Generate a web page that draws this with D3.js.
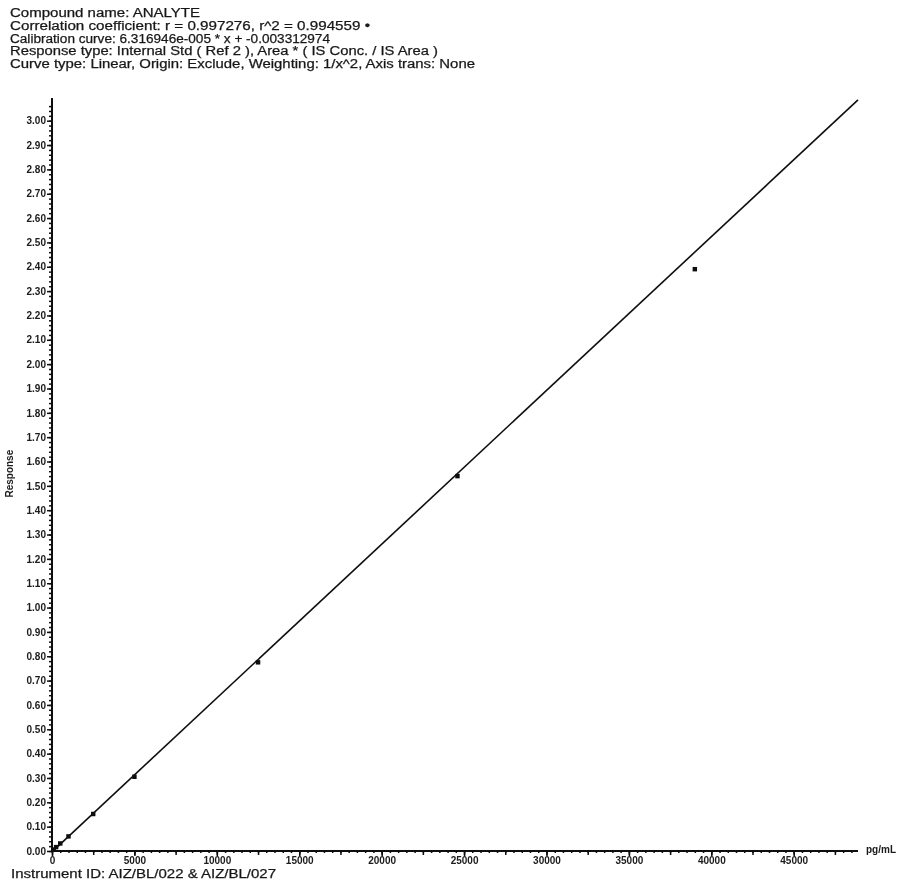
<!DOCTYPE html>
<html>
<head>
<meta charset="utf-8">
<script src="https://cdn.jsdelivr.net/npm/d3@7"></script>
<style>
  html, body { margin: 0; padding: 0; background: #fff; }
  svg { display: block; }
  .hdr { font-family: "Liberation Sans", Arial, sans-serif; font-size: 12px; fill: #1a1a1a; stroke: #1a1a1a; stroke-width: 0.25px; }
  .tick-lbl { font-family: "Liberation Sans", Arial, sans-serif; font-size: 10px; font-weight: bold; fill: #1a1a1a; }
</style>
</head>
<body>
<script>
// Header lines of the calibration report, with their printed widths
const headerLines = [
  "Compound name: ANALYTE",
  "Correlation coefficient: r = 0.997276, r^2 = 0.994559  \u2022",
  "Calibration curve: 6.316946e-005 * x + -0.003312974",
  "Response type: Internal Std ( Ref 2 ), Area * ( IS Conc. / IS Area )",
  "Curve type: Linear, Origin: Exclude, Weighting: 1/x^2, Axis trans: None"
];
const headerWidths = [190, 360, 320, 428, 465];
const footerText = "Instrument ID: AIZ/BL/022 & AIZ/BL/027";

// Calibration fit
const slope = 6.316946e-5;
const intercept = -0.003312974;

// Standards: concentration (pg/mL) and measured response
const concentrations = [100, 250, 500, 1000, 2500, 5000, 12500, 24600, 39000];
const responses      = [0.006, 0.016, 0.031, 0.060, 0.152, 0.305, 0.775, 1.540, 2.390];

// Axis ranges and tick labels
const xMax = 48900;
const yMax = 3.085;
const xTickValues = [0, 5000, 10000, 15000, 20000, 25000, 30000, 35000, 40000, 45000];
const yTickValues = d3.range(0, 31).map(i => i / 10);

const W = 900, H = 881;
const svg = d3.select("body").append("svg").attr("width", W).attr("height", H);

// soft print-like rendering
const defs = svg.append("defs");
defs.append("filter").attr("id", "soft")
  .attr("filterUnits", "userSpaceOnUse")
  .attr("x", 0).attr("y", 0).attr("width", W).attr("height", H)
  .append("feGaussianBlur").attr("stdDeviation", 0.55);

const g = svg.append("g").attr("filter", "url(#soft)");

const x = d3.scaleLinear().domain([0, xMax]).range([52, 858]);
const y = d3.scaleLinear().domain([0, yMax]).range([851, 100]);

// Header
g.append("g").selectAll("text").data(headerLines).join("text")
  .attr("class", "hdr")
  .attr("x", 10)
  .attr("y", (d, i) => 17 + i * 12.8)
  .attr("textLength", (d, i) => headerWidths[i])
  .attr("lengthAdjust", "spacingAndGlyphs")
  .text(d => d);

// Footer
g.append("text").attr("class", "hdr")
  .attr("x", 11).attr("y", 878)
  .attr("textLength", 265).attr("lengthAdjust", "spacingAndGlyphs")
  .text(footerText);

// Y axis: minor ticks every 0.02, labelled every 0.10
const yAxisG = g.append("g").attr("transform", `translate(${x(0)},0)`);
yAxisG.call(d3.axisLeft(y).tickValues(d3.range(0, 154).map(i => i * 0.02)).tickSize(3).tickFormat(""))
  .call(a => a.select(".domain").remove());
yAxisG.append("g").call(d3.axisLeft(y).tickValues(yTickValues).tickSize(5).tickPadding(1).tickFormat(d3.format(".2f")))
  .call(a => a.select(".domain").remove())
  .call(a => a.selectAll("text").attr("class", "tick-lbl").attr("font-size", null).attr("font-family", null));
yAxisG.append("line").attr("x1", 0).attr("x2", 0).attr("y1", y(0)).attr("y2", y(yMax) - 2)
  .attr("stroke", "#111").attr("stroke-width", 2);
yAxisG.selectAll(".tick line").attr("stroke", "#111").attr("stroke-width", 1.5);

// X axis: minor ticks every 500, medium every 2500, labelled every 5000
const xAxisG = g.append("g").attr("transform", `translate(0,${y(0)})`);
xAxisG.call(d3.axisBottom(x).tickValues(d3.range(0, 98).map(i => i * 500)).tickSize(2).tickFormat(""))
  .call(a => a.select(".domain").remove());
xAxisG.append("g").call(d3.axisBottom(x).tickValues(d3.range(0, 20).map(i => i * 2500)).tickSize(4).tickFormat(""))
  .call(a => a.select(".domain").remove());
xAxisG.append("g").call(d3.axisBottom(x).tickValues(xTickValues).tickSize(5).tickPadding(1).tickFormat(d3.format("d")))
  .call(a => a.select(".domain").remove())
  .call(a => a.selectAll("text").attr("class", "tick-lbl").attr("font-size", null).attr("font-family", null));
xAxisG.append("line").attr("x1", x(0)).attr("x2", x(xMax)).attr("y1", 0).attr("y2", 0)
  .attr("stroke", "#111").attr("stroke-width", 2);
xAxisG.selectAll(".tick line").attr("stroke", "#111").attr("stroke-width", 1.5);

// Unit label
g.append("text").attr("class", "tick-lbl")
  .attr("x", x(xMax) + 8).attr("y", y(0) + 2).attr("font-size", "8px").text("pg/mL");

// Y axis title
g.append("text").attr("class", "tick-lbl")
  .attr("transform", `translate(13,${y(1.55)}) rotate(-90)`)
  .attr("text-anchor", "middle").attr("font-size", "7px").text("Response");

// Calibration line
const fitLine = d3.line().x(d => x(d)).y(d => y(slope * d + intercept));
g.append("path").datum([0, xMax])
  .attr("d", fitLine)
  .attr("fill", "none").attr("stroke", "#111").attr("stroke-width", 1.6);

// Standards
const pts = concentrations.map((c, i) => ({ c, r: responses[i] }));
g.append("g").selectAll("path").data(pts).join("path")
  .attr("transform", d => `translate(${x(d.c)},${y(d.r)})`)
  .attr("d", d3.symbol().type(d3.symbolSquare).size(20))
  .attr("fill", "#111");
</script>
</body>
</html>
